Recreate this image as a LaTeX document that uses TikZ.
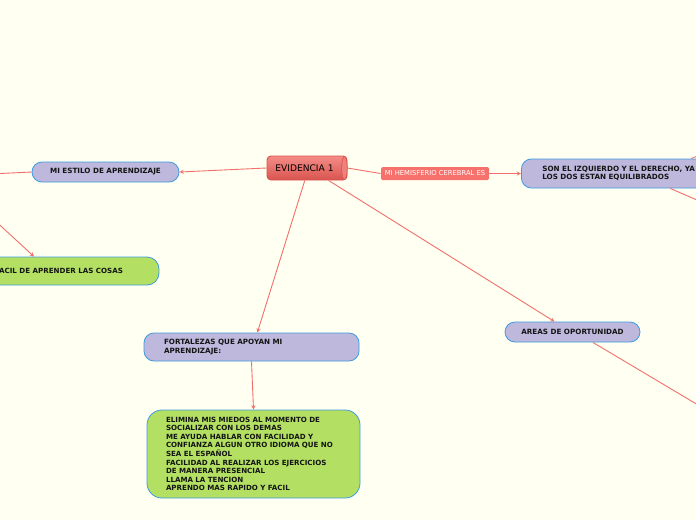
\documentclass[tikz,border=0pt]{standalone}
\usepackage{fontspec}
\setmainfont{DejaVu Sans}
\usetikzlibrary{positioning}
\definecolor{bgcol}{HTML}{FFFFF2}
\definecolor{linecol}{HTML}{F2706B}
\definecolor{relcol}{HTML}{F7716C}
\definecolor{purplecol}{HTML}{BDB8DC}
\definecolor{greencol}{HTML}{B3E063}
\definecolor{bordercol}{HTML}{3E9BE0}
\definecolor{redtop}{HTML}{F48C87}
\definecolor{redbot}{HTML}{D9544F}
\definecolor{txtcol}{HTML}{141414}

\begin{document}
\begin{tikzpicture}[x=1pt,y=-1pt,->,>=stealth,line width=0.9pt]
\tikzstyle{topic}=[rectangle,rounded corners=10pt,draw=bordercol,fill=purplecol,line width=0.8pt,text=txtcol,font=\fontsize{7.2}{8.6}\selectfont\bfseries]
\tikzstyle{leaf}=[rectangle,rounded corners=15pt,draw=bordercol,fill=greencol,line width=0.8pt,text=txtcol,font=\fontsize{7.1}{8.6}\selectfont\bfseries]
\tikzstyle{rel}=[rectangle,rounded corners=1.5pt,fill=relcol,text=white,inner sep=0pt,minimum width=108pt,minimum height=13pt,font=\fontsize{6.8}{8}\selectfont]
\tikzstyle{conn}=[color=linecol]
% background and page size
\fill[bgcol,-] (0,0) rectangle (696,520);
\useasboundingbox (0,0) rectangle (696,520);
% central topic
\node[rectangle,rounded corners=4pt,top color=redtop,bottom color=redbot,draw=redbot,minimum width=80pt,minimum height=24pt,inner sep=0pt,font=\fontsize{9.1}{10}\selectfont] (ev) at (307,168) {\hspace*{-5pt}EVIDENCIA 1};
\draw[-,draw=redbot,fill=redtop!80!redbot,line width=0.7pt] ([xshift=-3pt]ev.east) ellipse (2.8 and 11.6);
% main topics
\node[topic,minimum width=147pt,minimum height=20pt,inner sep=0pt] (estilo) at (105.5,172) {MI ESTILO DE APRENDIZAJE};
\node[leaf,rounded corners=12pt,minimum width=200pt,minimum height=28pt,inner sep=0pt] (facil) at (59,271) {FACIL DE APRENDER LAS COSAS};
\node[rel] (hemis) at (435,173.5) {MI HEMISFERIO CEREBRAL ES};
\node[topic,anchor=west,minimum width=220pt,minimum height=29pt,inner xsep=21pt,inner ysep=0pt,text width=178pt,align=left] (lados) at (521,173.5) {SON EL IZQUIERDO Y EL DERECHO, YA\\LOS DOS ESTAN EQUILIBRADOS};
\node[topic,minimum width=215pt,minimum height=28pt,inner xsep=20pt,inner ysep=0pt,text width=175pt,align=left] (fort) at (251.5,347) {FORTALEZAS QUE APOYAN MI\\APRENDIZAJE:};
\node[leaf,minimum width=213pt,minimum height=88pt,inner xsep=19pt,inner ysep=0pt,text width=175pt,align=left] (elim) at (253.5,454) {ELIMINA MIS MIEDOS AL MOMENTO DE\\SOCIALIZAR CON LOS DEMAS\\ME AYUDA HABLAR CON FACILIDAD Y\\CONFIANZA ALGUN OTRO IDIOMA QUE NO\\SEA EL ESPAÑOL\\FACILIDAD AL REALIZAR LOS EJERCICIOS\\DE MANERA PRESENCIAL\\LLAMA LA TENCION\\APRENDO MAS RAPIDO Y FACIL};
\node[topic,minimum width=135pt,minimum height=20pt,inner sep=0pt] (areas) at (572.5,332) {AREAS DE OPORTUNIDAD};
% ends outside the page
\coordinate (outL) at (-10,174);
\coordinate (outLL) at (-10,216);
\coordinate (outR1) at (712,150);
\coordinate (outR2) at (720,210);
\coordinate (outR3) at (730,424);
\path[conn] (ev.west)   edge (estilo.east)
	 (outLL)	edge (facil.150)
	 (hemis.east)	edge (lados.west)
	 (ev.-100)	edge (fort.68)
	 (fort.south)	edge (elim.north)
	 (ev.-30)	edge (areas.150);
\draw[conn,-] (estilo.west) -- (outL);
\draw[conn,-] (ev.east) -- (hemis.west);
\draw[conn,-] (lados.14.8) -- (outR1);
\draw[conn,-] (lados.-21.4) -- (outR2);
\draw[conn,-] (areas.-27) -- (outR3);
\end{tikzpicture}
\end{document}
